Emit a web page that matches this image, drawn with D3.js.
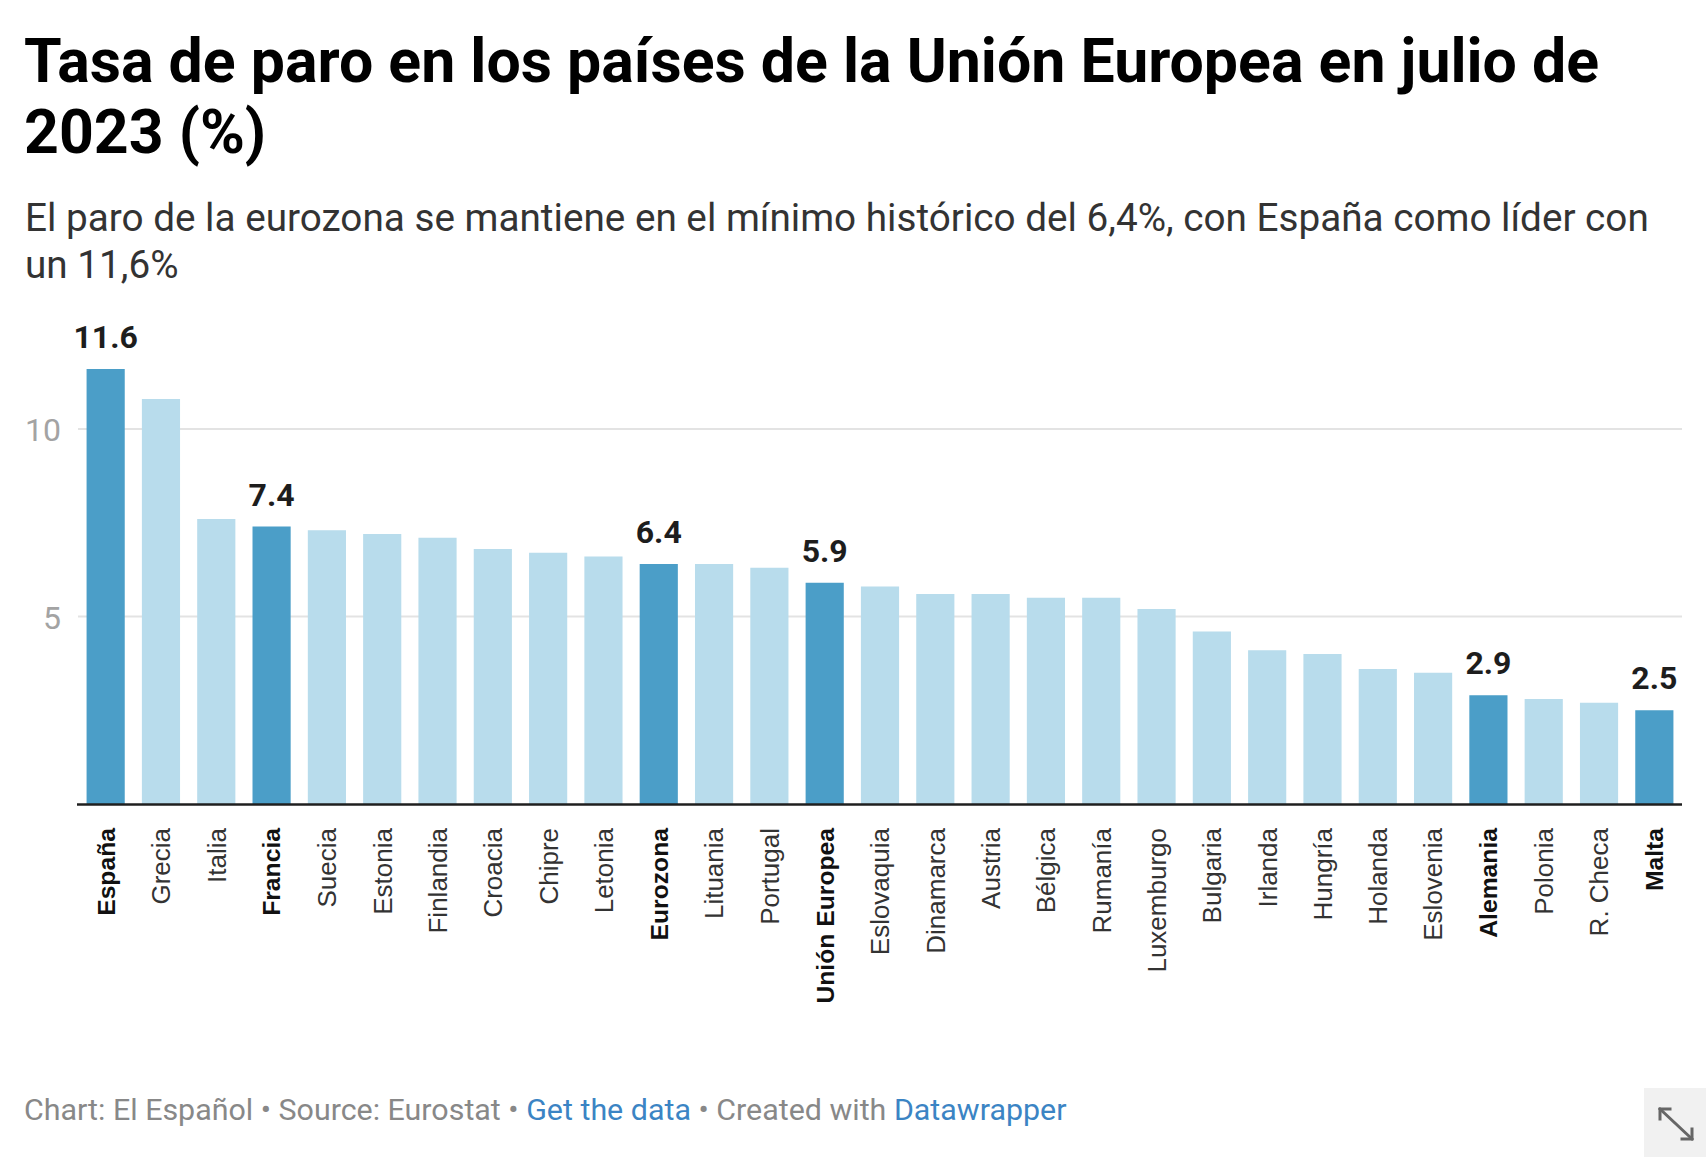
<!DOCTYPE html>
<html>
<head>
<meta charset="utf-8">
<script src="https://cdn.jsdelivr.net/npm/d3@7"></script>
<style>
  html, body { margin: 0; padding: 0; background: #fff; }
  svg { display: block; }
</style>
</head>
<body>
<svg id="chart" width="1706" height="1157"></svg>
<script>
// ---- Data ----
const categories = ["España","Grecia","Italia","Francia","Suecia","Estonia","Finlandia","Croacia","Chipre","Letonia","Eurozona","Lituania","Portugal","Unión Europea","Eslovaquia","Dinamarca","Austria","Bélgica","Rumanía","Luxemburgo","Bulgaria","Irlanda","Hungría","Holanda","Eslovenia","Alemania","Polonia","R. Checa","Malta"];
const values = [11.6,10.8,7.6,7.4,7.3,7.2,7.1,6.8,6.7,6.6,6.4,6.4,6.3,5.9,5.8,5.6,5.6,5.5,5.5,5.2,4.6,4.1,4.0,3.6,3.5,2.9,2.8,2.7,2.5];
const highlighted = ["España","Francia","Eurozona","Unión Europea","Alemania","Malta"];
const yTicks = [5, 10];
const titleLines = ["Tasa de paro en los países de la Unión Europea en julio de", "2023 (%)"];
const subtitleLines = ["El paro de la eurozona se mantiene en el mínimo histórico del 6,4%, con España como líder con", "un 11,6%"];

const data = categories.map((c, i) => ({ name: c, value: values[i], hl: highlighted.includes(c) }));

const svg = d3.select("#chart");

const left = 78, right = 1682, baseY = 804, unit = 37.5;
const x = d3.scaleBand().domain(categories).range([left, right]).paddingInner(0.31).paddingOuter(0.155);
const y = d3.scaleLinear().domain([0, 12]).range([baseY, baseY - 12 * unit]);

// Title
const title = svg.append("text")
  .attr("font-family", "Roboto").attr("font-weight", 700).attr("font-size", 60.8).attr("fill", "#000");
titleLines.forEach((t, i) => title.append("tspan").attr("x", 24).attr("y", 82 + i * 71).text(t));

// Subtitle
const sub = svg.append("text").attr("font-family", "Roboto").attr("font-size", 38.7).attr("fill", "#333");
subtitleLines.forEach((t, i) => sub.append("tspan").attr("x", 25).attr("y", 231 + i * 47).text(t));

// Gridlines
svg.append("g").selectAll("line").data(yTicks).join("line")
  .attr("x1", left).attr("x2", right)
  .attr("y1", d => y(d)).attr("y2", d => y(d))
  .attr("stroke", "#e3e3e3").attr("stroke-width", 2);

// Y axis labels
const yAxis = d3.axisLeft(y).tickValues(yTicks).tickSize(0).tickPadding(0).tickFormat(d3.format("d"));
const yg = svg.append("g").attr("transform", "translate(61,0)").call(yAxis);
yg.select(".domain").remove();
yg.selectAll("text").attr("font-family", "Roboto").attr("font-size", 32).attr("fill", "#a3a3a3").attr("dy", "0.36em");

// Bars
svg.append("g").selectAll("rect").data(data).join("rect")
  .attr("x", d => x(d.name)).attr("width", x.bandwidth())
  .attr("y", d => y(d.value)).attr("height", d => y(0) - y(d.value))
  .attr("fill", d => d.hl ? "#4b9ec8" : "#b8dcec");

// Baseline
svg.append("line").attr("x1", left - 1).attr("x2", right).attr("y1", baseY + 0.5).attr("y2", baseY + 0.5)
  .attr("stroke", "#1f1f1f").attr("stroke-width", 2.5);

// Value labels
svg.append("g").selectAll("text").data(data.filter(d => d.hl)).join("text")
  .attr("x", d => x(d.name) + x.bandwidth() / 2)
  .attr("y", d => y(d.value) - 21)
  .attr("text-anchor", "middle")
  .attr("font-family", "Roboto").attr("font-weight", 700).attr("font-size", 32).attr("fill", "#1d1d1d")
  .text(d => d.value.toFixed(1));

// X axis labels
const xAxis = d3.axisBottom(x).tickSize(0).tickPadding(0);
const xg = svg.append("g").attr("transform", `translate(0,${baseY})`).call(xAxis);
xg.select(".domain").remove();
xg.selectAll("text")
  .attr("font-family", "'Liberation Sans', Arial, sans-serif")
  .attr("font-size", d => highlighted.includes(d) ? 24.7 : 26)
  .attr("font-weight", d => highlighted.includes(d) ? 700 : 400)
  .attr("fill", d => highlighted.includes(d) ? "#111" : "#333")
  .attr("text-anchor", "end")
  .attr("transform", "translate(0,24) rotate(-90)")
  .attr("x", 0).attr("y", 0).attr("dy", "0.36em");

// Footer
const foot = svg.append("text").attr("x", 24).attr("y", 1120)
  .attr("font-family", "Roboto").attr("font-size", 30.4).attr("fill", "#888");
foot.append("tspan").text("Chart: El Español • Source: Eurostat • ");
foot.append("tspan").attr("fill", "#3b84c4").text("Get the data");
foot.append("tspan").text(" • Created with ");
foot.append("tspan").attr("fill", "#3b84c4").text("Datawrapper");

// Resize icon
svg.append("rect").attr("x", 1644).attr("y", 1088).attr("width", 62).attr("height", 69).attr("fill", "#f1f1f1");
const ic = svg.append("g").attr("stroke", "#666").attr("stroke-width", 3).attr("fill", "none").attr("stroke-linecap", "square");
ic.append("line").attr("x1", 1660).attr("y1", 1109).attr("x2", 1692).attr("y2", 1139);
ic.append("polyline").attr("points", "1660,1119 1660,1109 1670,1109");
ic.append("polyline").attr("points", "1682,1139 1692,1139 1692,1129");
</script>
</body>
</html>
